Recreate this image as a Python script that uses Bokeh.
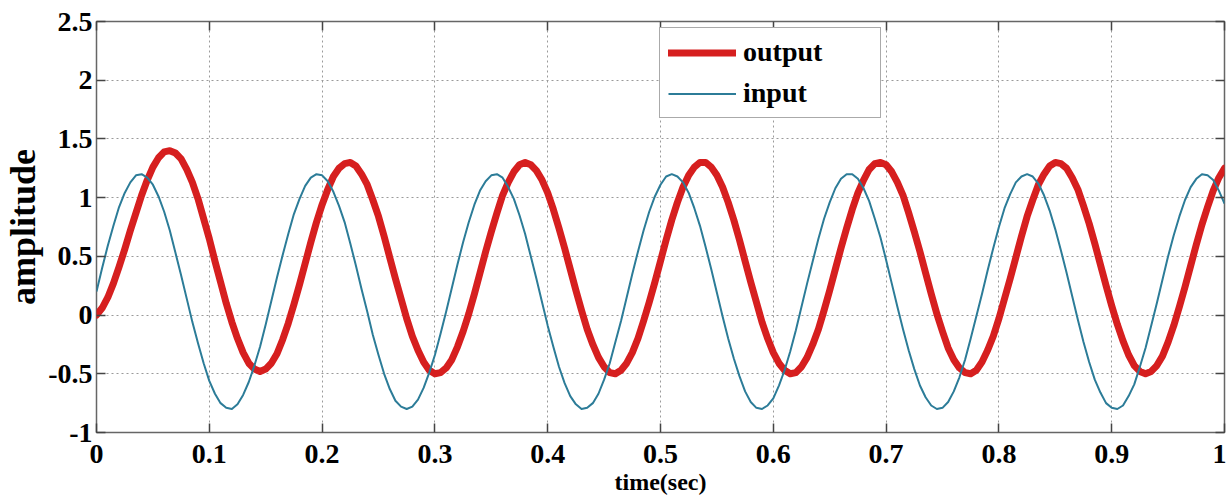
from bokeh.plotting import figure
from bokeh.models import (LinearAxis, FixedTicker, Legend, LegendItem,
                          Range1d, ColumnDataSource)
from bokeh.embed import file_html
from bokeh.resources import INLINE

time_s = [i / 200 for i in range(201)]

output_amp = [
    0.00, 0.06, 0.15, 0.27, 0.41, 0.56, 0.72, 0.87, 1.02, 1.15,
    1.26, 1.34, 1.39, 1.40, 1.38, 1.33, 1.24, 1.13, 0.99, 0.82,
    0.65, 0.46, 0.28, 0.10, -0.06, -0.20, -0.32, -0.41, -0.46, -0.48,
    -0.46, -0.41, -0.33, -0.21, -0.07, 0.09, 0.26, 0.44, 0.62, 0.79,
    0.94, 1.07, 1.18, 1.25, 1.29, 1.30, 1.27, 1.20, 1.11, 0.98,
    0.84, 0.67, 0.49, 0.31, 0.14, -0.03, -0.18, -0.30, -0.40, -0.47,
    -0.50, -0.49, -0.45, -0.38, -0.27, -0.14, 0.01, 0.18, 0.36, 0.54,
    0.71, 0.87, 1.02, 1.13, 1.22, 1.28, 1.30, 1.28, 1.23, 1.15,
    1.04, 0.90, 0.74, 0.57, 0.39, 0.21, 0.04, -0.12, -0.25, -0.36,
    -0.44, -0.49, -0.50, -0.47, -0.41, -0.32, -0.20, -0.05, 0.11, 0.28,
    0.46, 0.64, 0.81, 0.96, 1.09, 1.19, 1.26, 1.30, 1.30, 1.26,
    1.19, 1.09, 0.96, 0.81, 0.64, 0.46, 0.28, 0.11, -0.06, -0.20,
    -0.32, -0.41, -0.47, -0.50, -0.49, -0.44, -0.36, -0.25, -0.12, 0.04,
    0.21, 0.39, 0.57, 0.74, 0.90, 1.04, 1.15, 1.24, 1.29, 1.30,
    1.28, 1.22, 1.13, 1.02, 0.87, 0.71, 0.54, 0.36, 0.18, 0.01,
    -0.14, -0.28, -0.38, -0.45, -0.49, -0.50, -0.47, -0.40, -0.30, -0.18,
    -0.03, 0.14, 0.31, 0.49, 0.67, 0.84, 0.98, 1.11, 1.20, 1.27,
    1.30, 1.29, 1.25, 1.17, 1.07, 0.93, 0.78, 0.61, 0.43, 0.25,
    0.08, -0.08, -0.22, -0.34, -0.43, -0.48, -0.50, -0.48, -0.43, -0.35,
    -0.23, -0.09, 0.07, 0.24, 0.42, 0.60, 0.77, 0.92, 1.06, 1.17,
    1.25,
]

input_amp = [
    0.20, 0.40, 0.59, 0.76, 0.92, 1.04, 1.13, 1.19, 1.20, 1.17,
    1.11, 1.01, 0.88, 0.72, 0.53, 0.34, 0.14, -0.06, -0.24, -0.41,
    -0.56, -0.67, -0.75, -0.79, -0.80, -0.76, -0.68, -0.57, -0.43, -0.27,
    -0.08, 0.12, 0.32, 0.51, 0.69, 0.86, 0.99, 1.10, 1.17, 1.20,
    1.19, 1.14, 1.05, 0.93, 0.79, 0.61, 0.42, 0.22, 0.03, -0.17,
    -0.34, -0.50, -0.63, -0.73, -0.78, -0.80, -0.78, -0.72, -0.62, -0.49,
    -0.34, -0.16, 0.03, 0.23, 0.43, 0.62, 0.79, 0.94, 1.06, 1.14,
    1.19, 1.20, 1.17, 1.09, 0.99, 0.85, 0.69, 0.50, 0.31, 0.11,
    -0.09, -0.27, -0.44, -0.58, -0.69, -0.76, -0.80, -0.79, -0.75, -0.67,
    -0.55, -0.41, -0.23, -0.05, 0.15, 0.35, 0.54, 0.72, 0.88, 1.01,
    1.11, 1.18, 1.20, 1.18, 1.13, 1.04, 0.91, 0.76, 0.58, 0.39,
    0.19, -0.01, -0.20, -0.37, -0.52, -0.65, -0.74, -0.79, -0.80, -0.77,
    -0.71, -0.60, -0.47, -0.31, -0.13, 0.07, 0.27, 0.46, 0.65, 0.82,
    0.96, 1.08, 1.16, 1.20, 1.20, 1.16, 1.08, 0.97, 0.82, 0.66,
    0.47, 0.27, 0.07, -0.12, -0.30, -0.46, -0.60, -0.70, -0.77, -0.80,
    -0.79, -0.74, -0.65, -0.53, -0.38, -0.20, -0.01, 0.18, 0.38, 0.57,
    0.75, 0.91, 1.03, 1.13, 1.18, 1.20, 1.18, 1.12, 1.02, 0.89,
    0.73, 0.55, 0.36, 0.16, -0.04, -0.23, -0.40, -0.55, -0.66, -0.75,
    -0.79, -0.80, -0.77, -0.69, -0.59, -0.44, -0.28, -0.09, 0.10, 0.30,
    0.50, 0.68, 0.84, 0.98, 1.09, 1.16, 1.20, 1.19, 1.15, 1.06,
    0.95,
]

x_ticks = [0, 0.1, 0.2, 0.3, 0.4, 0.5, 0.6, 0.7, 0.8, 0.9, 1]
x_tick_labels = ["0", "0.1", "0.2", "0.3", "0.4", "0.5", "0.6", "0.7", "0.8", "0.9", "1"]
y_ticks = [-1, -0.5, 0, 0.5, 1, 1.5, 2, 2.5]
y_tick_labels = ["-1", "-0.5", "0", "0.5", "1", "1.5", "2", "2.5"]

series_names = ["output", "input"]
x_title = "time(sec)"
y_title = "amplitude"

# ---- figure ----
FONT = "Liberation Serif"

p = figure(width=1226, height=500, output_backend="svg", toolbar_location=None,
           x_range=Range1d(0, 1), y_range=Range1d(-1, 2.5),
           min_border_left=94, min_border_right=2, min_border_top=21,
           min_border_bottom=68)
p.background_fill_color = "white"
p.border_fill_color = "white"
p.outline_line_color = "#666666"
p.outline_line_width = 1.5

src = ColumnDataSource(dict(t=time_s, out=output_amp, inp=input_amp))
r_out = p.line("t", "out", source=src, line_color="#d61f1f", line_width=7,
               line_join="round", line_cap="round")
r_in = p.line("t", "inp", source=src, line_color="#2c7c98", line_width=2,
              line_join="round")

def style_axis(ax, ticks, labels, show_labels=True, standoff=5):
    ax.ticker = FixedTicker(ticks=ticks)
    ax.axis_line_color = None
    ax.major_tick_in = 9
    ax.major_tick_out = 0
    ax.major_tick_line_color = "#444444"
    ax.major_tick_line_width = 1.5
    ax.minor_tick_line_color = None
    ax.major_label_text_font = FONT
    ax.major_label_text_font_style = "bold"
    ax.major_label_text_color = "black"
    if show_labels:
        ax.major_label_overrides = {t: l for t, l in zip(ticks, labels)}
        ax.major_label_text_font_size = "28px"
        ax.major_label_standoff = standoff
    else:
        ax.major_label_overrides = {t: "" for t in ticks}
        ax.major_label_text_font_size = "1px"
        ax.major_label_standoff = 0

xax = p.xaxis[0]
yax = p.yaxis[0]
style_axis(xax, x_ticks, x_tick_labels, standoff=12)
style_axis(yax, y_ticks, y_tick_labels, standoff=4)

xax.axis_label = x_title
xax.axis_label_standoff = 3
xax.axis_label_text_font = FONT
xax.axis_label_text_font_style = "bold"
xax.axis_label_text_font_size = "24px"
xax.axis_label_text_color = "black"

yax.axis_label = y_title
yax.axis_label_standoff = 2
yax.axis_label_text_font = FONT
yax.axis_label_text_font_style = "bold"
yax.axis_label_text_font_size = "36px"
yax.axis_label_text_color = "black"

top_ax = LinearAxis()
style_axis(top_ax, x_ticks, x_tick_labels, show_labels=False)
p.add_layout(top_ax, "above")
right_ax = LinearAxis()
style_axis(right_ax, y_ticks, y_tick_labels, show_labels=False)
p.add_layout(right_ax, "right")

p.xgrid.ticker = FixedTicker(ticks=x_ticks)
p.ygrid.ticker = FixedTicker(ticks=y_ticks)
p.grid.grid_line_color = "#9a9a9a"
p.grid.grid_line_dash = "2 3"
p.grid.grid_line_width = 1

legend = Legend(items=[LegendItem(label=series_names[0], renderers=[r_out]),
                       LegendItem(label=series_names[1], renderers=[r_in])],
                location=(563, 314), orientation="vertical")
legend.border_line_color = "#555555"
legend.border_line_width = 1.5
legend.background_fill_color = "white"
legend.background_fill_alpha = 1
legend.padding = 8
legend.spacing = 9
legend.margin = 0
legend.glyph_width = 68
legend.glyph_height = 31
legend.label_height = 31
legend.label_width = 129
legend.label_standoff = 7
legend.label_text_font = FONT
legend.label_text_font_style = "bold"
legend.label_text_font_size = "28px"
legend.label_text_color = "black"
p.add_layout(legend)

open("out.html", "w").write(file_html(p, INLINE))
